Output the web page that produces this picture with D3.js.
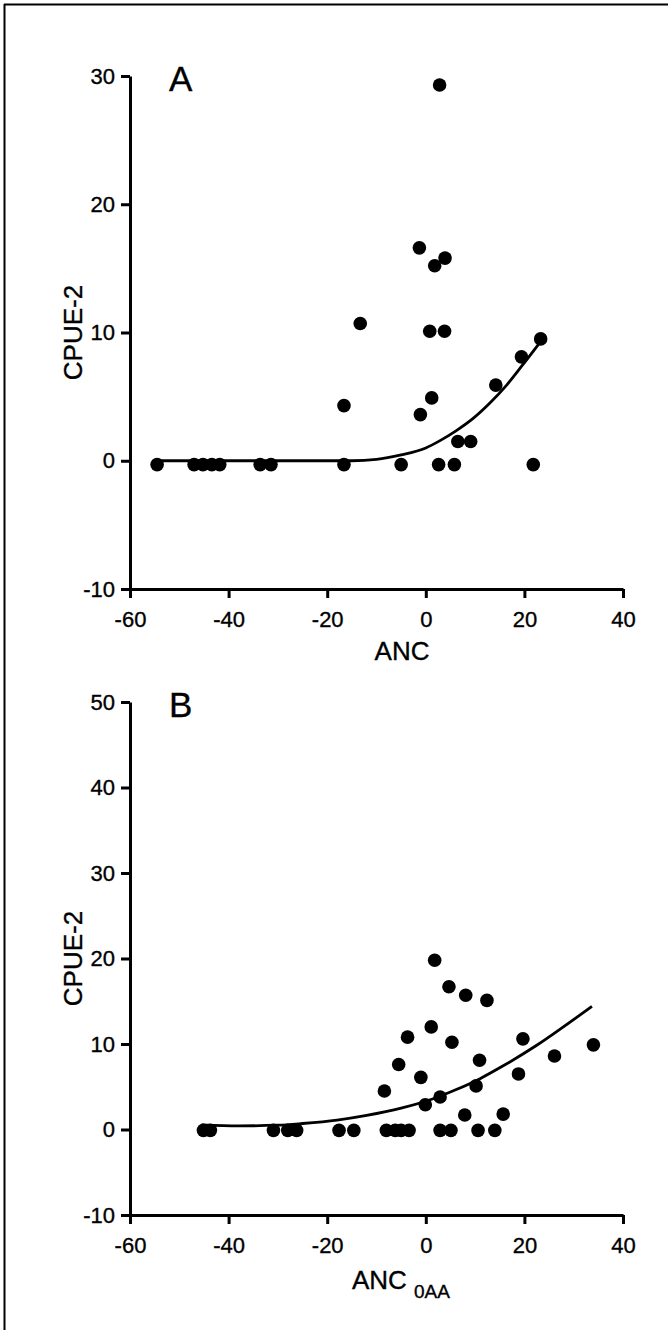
<!DOCTYPE html>
<html>
<head>
<meta charset="utf-8">
<script src="https://cdn.jsdelivr.net/npm/d3@7"></script>
<style>
  body { margin: 0; background: #fff; }
  svg text { font-family: "Liberation Sans", Arial, sans-serif; fill: #000; stroke: #000; stroke-width: 0.35px; }
</style>
</head>
<body>
<div id="chart"></div>
<script>
// panel A : CPUE-2 vs ANC
var ancA  = [-54.5, -47, -45.2, -43.4, -41.8, -33.6, -31.4, -16.6, -16.6, -13.3, -5.0, -1.1, -1.3, 0.8, 1.2, 1.8, 2.6, 2.8, 3.8, 3.9, 5.8, 6.5, 9.1, 14.2, 19.4, 21.8, 23.3];
var cpueA = [-0.3, -0.3, -0.3, -0.3, -0.3, -0.3, -0.3, -0.3, 4.3, 10.7, -0.3, 3.6, 16.6, 10.1, 4.9, 15.2, -0.3, 29.3, 10.1, 15.8, -0.3, 1.5, 1.5, 5.9, 8.1, -0.3, 9.5];
var fitAx = [-54.5, -15, -10, -5, 0, 2.8, 6.2, 9.6, 13, 16.4, 19.4, 23.5];
var fitAy = [0, 0, 0.1, 0.45, 1.0, 1.55, 2.35, 3.3, 4.5, 5.9, 7.35, 9.4];

// panel B : CPUE-2 vs ANC 0AA
var ancB  = [-45.1, -43.7, -30.9, -28, -26.2, -17.6, -14.6, -8, -6.2, -5, -3.4, 2.9, 5.1, 10.6, 14,
             -8.4, -5.5, -3.7, 1.1, 1.8, 4.7, 8.1, 12.4, 5.3, -1, -0.1, 2.9, 7.9, 15.7, 10.2, 10.9, 18.8, 19.7, 26.1, 34];
var cpueB = [-0.1, -0.1, -0.1, -0.1, -0.1, -0.1, -0.1, -0.1, -0.1, -0.1, -0.1, -0.1, -0.1, -0.1, -0.1,
             4.5, 7.6, 10.8, 12, 19.8, 16.7, 15.7, 15.1, 10.2, 6.1, 2.9, 3.8, 1.7, 1.8, 5.1, 8.1, 6.5, 10.6, 8.6, 9.9];
var fitBx = [-45.5, -38, -30, -25, -18, -12, -5, 1.5, 6.3, 11, 15.7, 22.5, 27.9, 33.7];
var fitBy = [0.55, 0.42, 0.5, 0.7, 1.1, 1.65, 2.5, 3.6, 4.7, 5.95, 7.45, 9.85, 12.0, 14.4];

var xTicks  = [-60, -40, -20, 0, 20, 40];
var yTicksA = [-10, 0, 10, 20, 30];
var yTicksB = [-10, 0, 10, 20, 30, 40, 50];

var W = 668, H = 1330;
var svg = d3.select("#chart").append("svg")
    .attr("width", W)
    .attr("height", H);

// frame (top and left edges only)
svg.append("line").attr("x1", 4).attr("y1", 4.5).attr("x2", W).attr("y2", 4.5)
    .attr("stroke", "#000").attr("stroke-width", 2);
svg.append("line").attr("x1", 4.5).attr("y1", 4).attr("x2", 4.5).attr("y2", H)
    .attr("stroke", "#000").attr("stroke-width", 2);

function panel(opt) {
    var x = d3.scaleLinear().domain([-60, 40]).range([130, 623]);
    var y = d3.scaleLinear().domain(opt.yDomain).range(opt.yRange);
    var g = svg.append("g");

    var xAxis = g.append("g")
        .attr("transform", "translate(0," + opt.yRange[0] + ")")
        .call(d3.axisBottom(x).tickValues(xTicks).tickSize(9).tickSizeOuter(0).tickPadding(13));
    var yAxis = g.append("g")
        .attr("transform", "translate(130,0)")
        .call(d3.axisLeft(y).tickValues(opt.yTicks).tickSize(9).tickSizeOuter(0).tickPadding(6));

    [xAxis, yAxis].forEach(function (a) {
        a.select(".domain").attr("stroke-width", 3);
        a.selectAll(".tick line").attr("stroke-width", 3);
        a.selectAll(".tick text").attr("font-size", 22)
            .text(function (d) { return d < 0 ? "-" + Math.abs(d) : d; });
    });

    var line = d3.line()
        .x(function (d, i) { return x(opt.fitX[i]); })
        .y(function (d) { return y(d); })
        .curve(d3.curveMonotoneX);
    g.append("path")
        .datum(opt.fitY)
        .attr("d", line)
        .attr("fill", "none")
        .attr("stroke", "#000")
        .attr("stroke-width", 2.8);

    g.selectAll("circle.pt")
        .data(opt.xs)
        .enter().append("circle")
        .attr("class", "pt")
        .attr("cx", function (d) { return x(d); })
        .attr("cy", function (d, i) { return y(opt.ys[i]); })
        .attr("r", 6.8)
        .attr("fill", "#000");

    g.append("text")
        .attr("x", 169).attr("y", opt.yRange[1] + 15)
        .attr("font-size", 35)
        .text(opt.letter);

    var cy = (opt.yRange[0] + opt.yRange[1]) / 2;
    g.append("text")
        .attr("transform", "translate(82," + cy + ") rotate(-90)")
        .attr("text-anchor", "middle")
        .attr("font-size", 26)
        .text("CPUE-2");

    return g;
}

var gA = panel({
    letter: "A", yDomain: [-10, 30], yRange: [589, 76], yTicks: yTicksA,
    xs: ancA, ys: cpueA, fitX: fitAx, fitY: fitAy
});
gA.append("text")
    .attr("x", 402).attr("y", 660)
    .attr("text-anchor", "middle")
    .attr("font-size", 26)
    .text("ANC");

var gB = panel({
    letter: "B", yDomain: [-10, 50], yRange: [1215, 702], yTicks: yTicksB,
    xs: ancB, ys: cpueB, fitX: fitBx, fitY: fitBy
});
var lab = gB.append("text")
    .attr("x", 352).attr("y", 1289)
    .attr("font-size", 26);
lab.append("tspan").text("ANC");
lab.append("tspan").attr("dx", 7).attr("dy", 9).attr("font-size", 19).text("0AA");
</script>
</body>
</html>
